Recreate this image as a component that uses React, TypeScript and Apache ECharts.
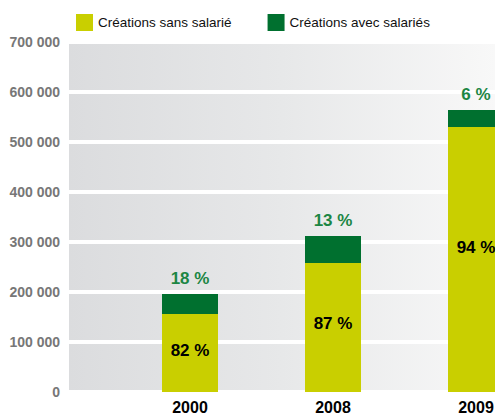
import React, { useEffect, useRef } from "react";
import * as echarts from "echarts";

const categories = ["2000", "2008", "2009"];
const sansSalarie = [156000, 258000, 530000];
const avecSalaries = [40000, 54000, 34000];
const partSans = ["82 %", "87 %", "94 %"];
const partAvec = ["18 %", "13 %", "6 %"];
const seriesNames = ["Créations sans salarié", "Créations avec salariés"];
const yMax = 700000;
const yStep = 100000;

const FONT = "'Liberation Sans', Arial, sans-serif";
const labelShift = [-3, -4.5, -12.5];

function fmt(v: number): string {
  return String(v).replace(/\B(?=(\d{3})+(?!\d))/g, " ");
}

export default function App() {
  const ref = useRef<HTMLDivElement>(null);
  useEffect(() => {
    if (!ref.current) return;
    const chart = echarts.init(ref.current, undefined, { renderer: "svg" });
    const bg = new echarts.graphic.LinearGradient(0, 0, 1, 0, [
      { offset: 0, color: "#dbdcde" },
      { offset: 0.5, color: "#e7e8e9" },
      { offset: 1, color: "#f8f8f8" },
    ]);
    chart.setOption({
      animation: false,
      legend: {
        left: 71,
        top: 9,
        itemWidth: 17,
        itemHeight: 17,
        itemGap: 36,
        icon: "rect",
        textStyle: { fontFamily: FONT, fontSize: 13.5, color: "#111" },
        data: seriesNames,
      },
      grid: [
        { left: 69, right: 0, top: 42, bottom: 24, outerBoundsMode: "none" },
        { left: 118.5, width: 429, top: 42, bottom: 24, outerBoundsMode: "none" },
      ],
      xAxis: [
        { gridIndex: 0, type: "value", show: false, min: 0, max: 1 },
        {
          gridIndex: 1,
          type: "category",
          data: categories,
          axisLine: { show: false },
          axisTick: { show: false },
          axisLabel: {
            margin: 7,
            fontFamily: FONT,
            fontSize: 16,
            fontWeight: "bold",
            color: "#000",
          },
        },
      ],
      yAxis: [
        {
          gridIndex: 0,
          type: "value",
          min: 0,
          max: yMax,
          interval: yStep,
          axisLine: { show: false },
          axisTick: { show: false },
          axisLabel: {
            margin: 9,
            fontFamily: FONT,
            fontSize: 14,
            fontWeight: "bold",
            color: "#777",
            formatter: (v: number) => fmt(v),
          },
          splitLine: { show: true, lineStyle: { color: "#fff", width: 4 } },
          splitArea: { show: true, areaStyle: { color: [bg] } },
        },
        {
          gridIndex: 1,
          type: "value",
          min: 0,
          max: yMax,
          interval: yStep,
          show: false,
          splitLine: { show: false },
        },
      ],
      series: [
        {
          name: seriesNames[0],
          type: "bar",
          stack: "total",
          xAxisIndex: 1,
          yAxisIndex: 1,
          barWidth: 56,
          itemStyle: { color: "#c9cf00" },
          data: sansSalarie.map((v, i) => ({
            value: v,
            label: { offset: [0, labelShift[i]] },
          })),
          label: {
            show: true,
            position: "inside",
            fontFamily: FONT,
            fontSize: 17,
            fontWeight: "bold",
            color: "#000",
            formatter: (p: any) => partSans[p.dataIndex],
          },
        },
        {
          name: seriesNames[1],
          type: "bar",
          stack: "total",
          xAxisIndex: 1,
          yAxisIndex: 1,
          barWidth: 56,
          itemStyle: { color: "#00702f" },
          data: avecSalaries,
          label: {
            show: true,
            position: "top",
            distance: 7,
            fontFamily: FONT,
            fontSize: 17,
            fontWeight: "bold",
            color: "#1c8644",
            formatter: (p: any) => partAvec[p.dataIndex],
          },
        },
      ],
    });
    return () => chart.dispose();
  }, []);
  return (
    <div
      ref={ref}
      style={{ position: "absolute", left: 0, top: 0, width: 495, height: 416 }}
    />
  );
}
